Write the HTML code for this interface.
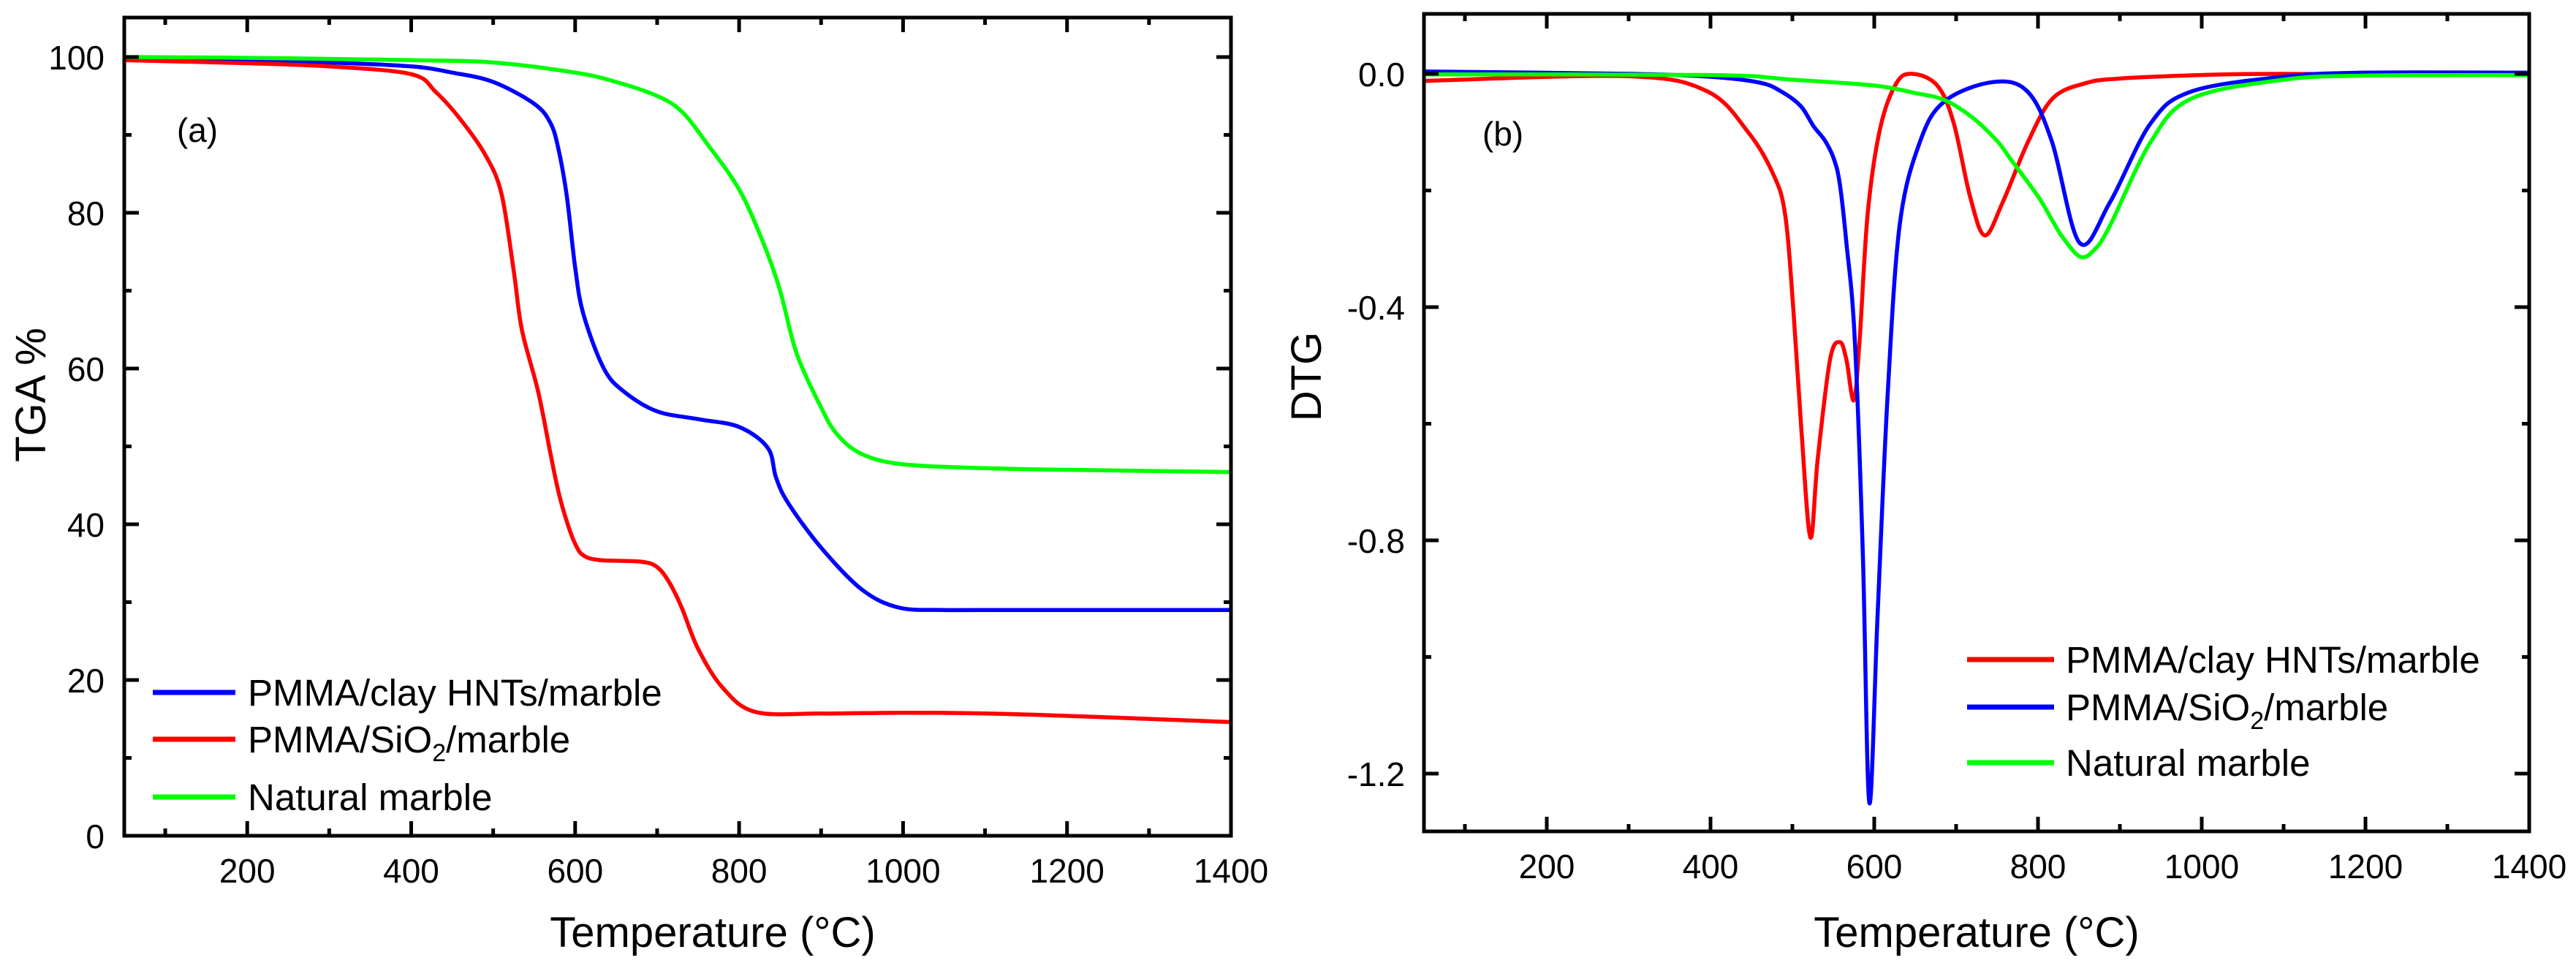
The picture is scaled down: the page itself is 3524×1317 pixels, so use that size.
<!DOCTYPE html>
<html><head><meta charset="utf-8"><style>
html,body{margin:0;padding:0;background:#fff;}
svg{display:block;font-family:"Liberation Sans",Arial,sans-serif;}
</style></head><body>
<svg id="fig" width="3524" height="1317" viewBox="0 0 3524 1317" xmlns="http://www.w3.org/2000/svg">
<g id="pa"></g>
<g id="pb"></g>
</svg>
<script>
// ---- Panel (a) TGA data ----
const tgaTempHNT = [50,200,300,400,450,500,550,570,580,590,600,610,635,660,700,750,800,835,845,860,900,950,995,1050,1100,1400];
const tgaHNT = [99.8,99.6,99.3,98.8,98,96.8,94,91.5,88,82,73,67,60,57,54.5,53.5,52.5,49.8,46,42.7,37,31.6,29.3,29,29,29];
const tgaTempSiO2 = [50,200,300,400,430,460,490,510,525,535,555,570,580,590,600,610,630,680,700,715,730,750,780,820,900,1000,1100,1200,1400];
const tgaSiO2 = [99.6,99.2,98.8,97.8,95.5,92,87.5,82.5,72.6,65,57,49,44,40.3,37.5,36,35.4,35.2,34.5,32.5,29.3,24,19,15.9,15.7,15.8,15.7,15.4,14.6];
const tgaTempMarble = [50,200,400,500,600,650,700,730,760,800,830,850,870,900,920,950,1000,1100,1200,1400];
const tgaMarble = [100,99.9,99.6,99.3,98,96.8,95,93,89,83,76,70,62,55,51.5,49,47.7,47.2,47,46.7];
const tgaXTicks = [200,400,600,800,1000,1200,1400];
const tgaYTicks = [0,20,40,60,80,100];

// ---- Panel (b) DTG data ----
const dtgTempHNT = [50,300,396,446,476,491,501,511,522,531,546,558,566,575,582,592,607,627,647,677,697,717,735,757,788,818,858,900,1000,1100,1400];
const dtgHNT = [-0.012,-0.004,-0.03,-0.1,-0.17,-0.24,-0.4,-0.61,-0.795,-0.66,-0.49,-0.46,-0.49,-0.56,-0.46,-0.24,-0.095,-0.016,0.0,-0.02,-0.084,-0.21,-0.277,-0.22,-0.116,-0.042,-0.016,-0.008,-0.002,0.0,-0.002];
const dtgTempSiO2 = [50,300,400,460,486,510,526,540,551,558,566,576,586,594,604,616,631,656,686,745,787,817,851,888,938,988,1100,1200,1400];
const dtgSiO2 = [0.004,0.0,-0.005,-0.015,-0.03,-0.055,-0.09,-0.115,-0.147,-0.19,-0.29,-0.45,-0.82,-1.25,-0.93,-0.56,-0.26,-0.116,-0.047,-0.014,-0.03,-0.116,-0.29,-0.22,-0.084,-0.03,-0.005,0.002,0.002];
const dtgTempMarble = [50,400,500,600,650,686,720,750,767,800,817,830,852,870,888,938,988,1100,1200,1400];
const dtgMarble = [-0.001,-0.002,-0.01,-0.02,-0.033,-0.045,-0.075,-0.115,-0.147,-0.21,-0.25,-0.28,-0.314,-0.3,-0.26,-0.116,-0.042,-0.01,-0.003,-0.002];
const dtgXTicks = [200,400,600,800,1000,1200,1400];
const dtgYTicks = [0.0,-0.4,-0.8,-1.2];
const dtgYTickLabels = ["0.0","-0.4","-0.8","-1.2"];

const NS = "http://www.w3.org/2000/svg";
function mk(parent, tag, attrs){
  const e = document.createElementNS(NS, tag);
  for (const k in attrs) e.setAttribute(k, attrs[k]);
  parent.appendChild(e);
  return e;
}
function smoothPath(pts){
  let d = "M" + pts[0][0].toFixed(1) + "," + pts[0][1].toFixed(1);
  for (let i=0;i<pts.length-1;i++){
    const p0 = pts[Math.max(0,i-1)], p1 = pts[i], p2 = pts[i+1], p3 = pts[Math.min(pts.length-1,i+2)];
    const t = 6;
    const c1 = [p1[0]+(p2[0]-p0[0])/t, p1[1]+(p2[1]-p0[1])/t];
    const c2 = [p2[0]-(p3[0]-p1[0])/t, p2[1]-(p3[1]-p1[1])/t];
    d += " C" + c1[0].toFixed(1)+","+c1[1].toFixed(1)+" "+c2[0].toFixed(1)+","+c2[1].toFixed(1)+" "+p2[0].toFixed(1)+","+p2[1].toFixed(1);
  }
  return d;
}

function panel(g, cfg){
  const xS = v => cfg.X0 + (v - cfg.xmin) / (cfg.xmax - cfg.xmin) * (cfg.X1 - cfg.X0);
  const yS = v => cfg.Yref0 + (v - cfg.v0) / (cfg.v1 - cfg.v0) * (cfg.Yref1 - cfg.Yref0);
  const clip = mk(g, "clipPath", {id: cfg.id + "clip"});
  mk(clip, "rect", {x: cfg.X0, y: cfg.Ytop, width: cfg.X1 - cfg.X0, height: cfg.Ybot - cfg.Ytop});
  const sg = mk(g, "g", {"clip-path": "url(#" + cfg.id + "clip)"});
  cfg.series.forEach(s => {
    const pts = s.x.map((t,i) => [xS(t), yS(s.y[i])]);
    const p = mk(sg, "path", {d: smoothPath(pts), fill: "none", stroke: s.color, "stroke-width": 5.5, "stroke-linejoin": "round"});
    
    
  });
  const fr = mk(g, "rect", {x: cfg.X0, y: cfg.Ytop, width: cfg.X1 - cfg.X0, height: cfg.Ybot - cfg.Ytop, fill: "none", stroke: "#000", "stroke-width": 5});
  
  
  for (let v = 100; v <= cfg.xmax; v += 100){
    const x = xS(v), len = (v % 200 === 0) ? 20 : 10;
    mk(g, "line", {x1: x, x2: x, y1: cfg.Ybot, y2: cfg.Ybot - len, stroke: "#000", "stroke-width": 5});
    mk(g, "line", {x1: x, x2: x, y1: cfg.Ytop, y2: cfg.Ytop + len, stroke: "#000", "stroke-width": 5});
  }
  cfg.xTicks.forEach(v => {
    const t = mk(g, "text", {x: xS(v), y: cfg.Ybot + 64, "font-size": 46, "text-anchor": "middle"});
    t.textContent = v;
    
    
  });
  cfg.yMinor.forEach(v => {
    const y = yS(v);
    const major = cfg.yTicks.some(m => Math.abs(m - v) < 1e-6);
    const len = major ? 20 : 10;
    mk(g, "line", {x1: cfg.X0, x2: cfg.X0 + len, y1: y, y2: y, stroke: "#000", "stroke-width": 5});
    mk(g, "line", {x1: cfg.X1, x2: cfg.X1 - len, y1: y, y2: y, stroke: "#000", "stroke-width": 5});
  });
  cfg.yTicks.forEach((v,i) => {
    const t = mk(g, "text", {x: cfg.yLabelX, y: yS(v) + 17, "font-size": 46, "text-anchor": "end"});
    t.textContent = cfg.yLabels[i];
    
    
  });
  const xt = mk(g, "text", {x: cfg.xTitleX, y: 1295, "font-size": 58, "text-anchor": "middle"});
  xt.textContent = "Temperature (°C)";
  
  
  const yt = mk(g, "text", {x: 0, y: 0, "font-size": 58, "text-anchor": "middle", transform: "translate(" + cfg.yTitleX + "," + cfg.yTitleY + ") rotate(-90)"});
  yt.textContent = cfg.yTitle;
  
  
  const pl = mk(g, "text", {x: cfg.labX, y: cfg.labY, "font-size": 46, "text-anchor": "middle"});
  pl.textContent = cfg.label;
  
  
  cfg.legend.forEach(l => {
    const lg = mk(g, "g", {});
    
    
    mk(lg, "line", {x1: cfg.legX1, x2: cfg.legX2, y1: l.y, y2: l.y, stroke: l.color, "stroke-width": 7});
    const t = mk(lg, "text", {x: cfg.legTX, y: l.y + 18, "font-size": 51});
    if (l.sub){
      t.appendChild(document.createTextNode(l.pre));
      const ts = mk(t, "tspan", {"font-size": 34, dy: 12});
      ts.textContent = "2";
      const ts2 = mk(t, "tspan", {dy: -12});
      ts2.textContent = l.post;
    } else t.textContent = l.text;
  });
}

panel(document.getElementById("pa"), {
  id: "a", X0: 170, X1: 1684, Ytop: 24, Ybot: 1143, xmin: 50, xmax: 1400,
  v0: 0, v1: 100, Yref0: 1143, Yref1: 78,
  xTicks: tgaXTicks, yTicks: tgaYTicks, yLabels: tgaYTicks.map(String),
  yMinor: [0,10,20,30,40,50,60,70,80,90,100],
  yLabelX: 143, yTitle: "TGA %", yTitleX: 62, yTitleY: 540, xTitleX: 975,
  label: "(a)", labX: 270, labY: 194,
  series: [
    {name: "tga-line-clay-hnts", x: tgaTempHNT, y: tgaHNT, color: "#0000ff"},
    {name: "tga-line-sio2", x: tgaTempSiO2, y: tgaSiO2, color: "#ff0000"},
    {name: "tga-line-natural-marble", x: tgaTempMarble, y: tgaMarble, color: "#00ff00"}
  ],
  legX1: 209, legX2: 322, legTX: 339,
  legend: [
    {y: 947, color: "#0000ff", text: "PMMA/clay HNTs/marble"},
    {y: 1011, color: "#ff0000", sub: true, pre: "PMMA/SiO", post: "/marble"},
    {y: 1090, color: "#00ff00", text: "Natural marble"}
  ]
});

panel(document.getElementById("pb"), {
  id: "b", X0: 1948, X1: 3460, Ytop: 19, Ybot: 1137, xmin: 50, xmax: 1400,
  v0: 0, v1: -1.2, Yref0: 101, Yref1: 1058,
  xTicks: dtgXTicks, yTicks: dtgYTicks, yLabels: dtgYTickLabels,
  yMinor: [0,-0.2,-0.4,-0.6,-0.8,-1.0,-1.2],
  yLabelX: 1922, yTitle: "DTG", yTitleX: 1807, yTitleY: 515, xTitleX: 2704,
  label: "(b)", labX: 2056, labY: 199,
  series: [
    {name: "dtg-line-clay-hnts", x: dtgTempHNT, y: dtgHNT, color: "#ff0000"},
    {name: "dtg-line-sio2", x: dtgTempSiO2, y: dtgSiO2, color: "#0000ff"},
    {name: "dtg-line-natural-marble", x: dtgTempMarble, y: dtgMarble, color: "#00ff00"}
  ],
  legX1: 2691, legX2: 2810, legTX: 2826,
  legend: [
    {y: 902, color: "#ff0000", text: "PMMA/clay HNTs/marble"},
    {y: 967, color: "#0000ff", sub: true, pre: "PMMA/SiO", post: "/marble"},
    {y: 1043, color: "#00ff00", text: "Natural marble"}
  ]
});
</script>
</body></html>
